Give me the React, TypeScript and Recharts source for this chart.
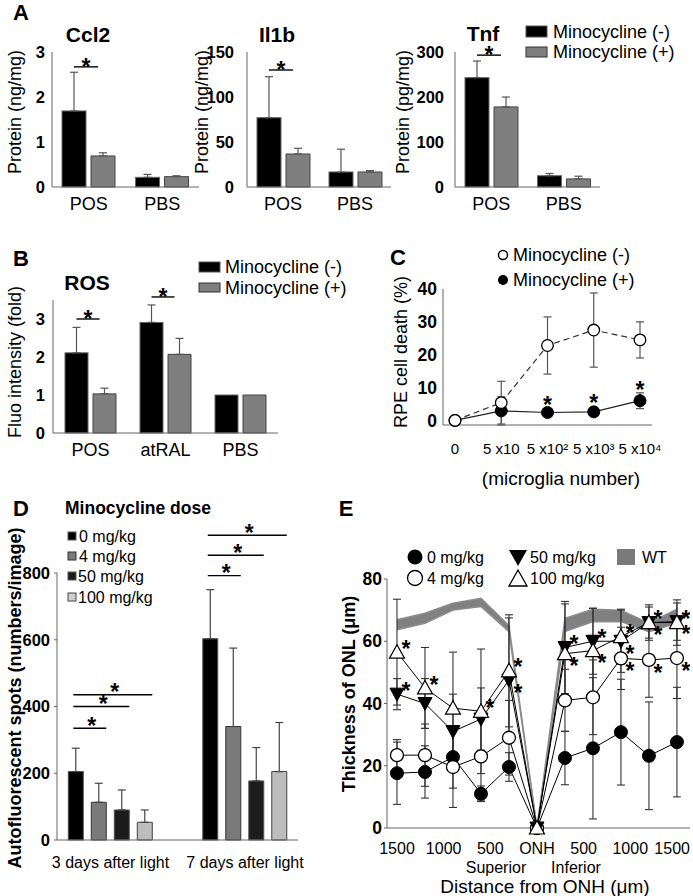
import React from 'react';
import { BarChart, Bar, XAxis, YAxis, ErrorBar, LineChart, Line, ComposedChart, Area } from 'recharts';

const FONT = "'Liberation Sans', Arial, Helvetica, sans-serif";
const AXIS = '#666';

// ---------- Panel A ----------
const A_CATS = ['POS', 'PBS'];
const CCL2_MINUS = [1.69, 0.215];
const CCL2_MINUS_ERR = [0.86, 0.065];
const CCL2_PLUS = [0.69, 0.23];
const CCL2_PLUS_ERR = [0.07, 0.02];
const CCL2_SIG = [2.67, null];
const CCL2_TICKS = [0, 1, 2, 3];

const IL1B_MINUS = [77, 16.7];
const IL1B_MINUS_ERR = [45.6, 25.3];
const IL1B_PLUS = [36.7, 16.7];
const IL1B_PLUS_ERR = [6.3, 1.5];
const IL1B_SIG = [130, null];
const IL1B_TICKS = [0, 50, 100, 150];

const TNF_MINUS = [243, 25];
const TNF_MINUS_ERR = [37, 5];
const TNF_PLUS = [178, 18];
const TNF_PLUS_ERR = [22, 6];
const TNF_SIG = [293, null];
const TNF_TICKS = [0, 100, 200, 300];

// ---------- Panel B ----------
const B_CATS = ['POS', 'atRAL', 'PBS'];
const ROS_MINUS = [2.11, 2.91, 1.0];
const ROS_MINUS_ERR = [0.67, 0.46, null];
const ROS_PLUS = [1.03, 2.07, 1.0];
const ROS_PLUS_ERR = [0.15, 0.42, null];
const ROS_SIG = [3.0, 3.58, null];
const ROS_TICKS = [0, 1, 2, 3];

// ---------- Panel C ----------
const C_CATS = ['0', '5 x10', '5 x10\u00B2', '5 x10\u00B3', '5 x10\u2074'];
const C_MINUS = [0, 5.4, 22.8, 27.5, 24.5];
const C_MINUS_ERR = [null, 6.5, 8.7, 11.3, 5.5];
const C_PLUS = [0, 2.9, 2.4, 2.6, 6.0];
const C_PLUS_ERR = [null, 4.3, null, null, 2.4];
const C_STAR = [null, null, 6.0, 6.8, 10.8];
const C_TICKS = [0, 10, 20, 30, 40];

// ---------- Panel D ----------
const D_CATS = ['3 days after light', '7 days after light'];
const D_0MG = [205, 603];
const D_0MG_ERR = [70, 147];
const D_4MG = [113, 340];
const D_4MG_ERR = [57, 235];
const D_50MG = [90, 177];
const D_50MG_ERR = [60, 100];
const D_100MG = [53, 205];
const D_100MG_ERR = [37, 147];
const D_SIG_VS_4 = [335, 792];
const D_SIG_VS_50 = [400, 853];
const D_SIG_VS_100 = [435, 913];
const D_TICKS = [0, 200, 400, 600, 800];

// ---------- Panel E ----------
const E_X = [-1500, -1200, -900, -600, -300, 0, 300, 600, 900, 1200, 1500];
const E_0MG = [17.6, 18, 22.8, 11, 19.6, 0, 22.5, 25.6, 30.8, 23.2, 27.6];
const E_0MG_ERR = [10, 8.4, 10, 2.5, 4.6, null, 8.6, 22.7, 17, 17.3, 17.6];
const E_4MG = [23.4, 23.4, 19.6, 23, 29, 0, 41, 42, 54.5, 54, 54.6];
const E_4MG_ERR = [5, 10, 13, 14, 12, null, 10, 12, 10, 12, 13];
const E_50MG = [43, 40, 31, 35, 47.5, 0, 58, 60, 60, 66, 66.3];
const E_50MG_ERR = [5, 8, 12, 10, 20, null, 14.8, 10.6, 10, 5, 6];
const E_100MG = [56.5, 45, 38.5, 37.5, 50.5, 0, 56, 57, 61.5, 66, 66];
const E_100MG_ERR = [17, 13, 18, 20, 18, null, 16, 13.6, 8.8, 5.7, 7.3];
const E_WT_LOW = [63.7, 65.8, 70, 71.2, 63.1, 0, 63.1, 66.3, 66.3, 63.1, 65.8];
const E_WT_HIGH = [66.9, 69, 72.2, 73.8, 65, 0, 67.4, 70.3, 70, 65.8, 70.3];
const E_4MG_STAR = [0, 0, 0, 0, 0, 0, 0, 0, -1, -1, -1];
const E_50MG_STAR = [1, 0, 0, 0, -1, 0, 1, 1, -1, -1, -1];
const E_100MG_STAR = [1, 1, 0, 1, 1, 0, -1, -1, 1, 1, 1];
const E_TICKS = [-1500, -1000, -500, 0, 500, 1000, 1500];
const E_Y_TICKS = [0, 20, 40, 60, 80];

// ---------- helpers ----------
const up = (e: number | null) => (e == null ? null : [0, e]);

const pairRows = (cats: string[], minus: number[], minusErr: (number | null)[], plus: number[], plusErr: (number | null)[], sig: (number | null)[]) =>
  cats.map((c, i) => ({ cat: c, minus: minus[i], minusErr: up(minusErr[i]), plus: plus[i], plusErr: up(plusErr[i]), sig: sig[i] }));

const STAR_FS = 23;
const Star = ({ x, y }: { x: number; y: number }) => (
  <text x={x} y={y + 0.55 * STAR_FS} textAnchor="middle" fontSize={STAR_FS} fontWeight={700} fontFamily={FONT} fill="#000">*</text>
);

const sigPairShape = (p: any) => {
  const { x, y, width, height, fill, stroke, payload } = p;
  const out: any[] = [<rect key="r" x={x} y={y} width={width} height={height} fill={fill} stroke={stroke} strokeWidth={1} />];
  if (payload && payload.sig != null && payload.minus > 0 && height > 0) {
    const k = height / payload.minus;
    const ly = y + height - payload.sig * k;
    const x1 = x + width / 2;
    const x2 = x1 + width;
    out.push(<line key="l" x1={x1} x2={x2} y1={ly} y2={ly} stroke="#000" strokeWidth={1.4} />);
    out.push(<Star key="s" x={(x1 + x2) / 2} y={ly - 5} />);
  }
  return <g>{out}</g>;
};

const tickBold = (size: number) => ({ fontSize: size, fontWeight: 700, fill: '#000', fontFamily: FONT });
const tickReg = (size: number) => ({ fontSize: size, fill: '#000', fontFamily: FONT });

function ProteinChart({ left, width, rows, ticks, gap }: any) {
  return (
    <div style={{ position: 'absolute', left, top: 0 }}>
      <BarChart width={width} height={217} data={rows} margin={{ top: 52, right: 0, bottom: 0, left: 0 }} barSize={24} barGap={5}>
        <XAxis dataKey="cat" height={30} interval={0} axisLine={{ stroke: AXIS }} tickLine={false} tickSize={4} tickMargin={6} tick={tickReg(18)} />
        <YAxis width={52} domain={[ticks[0], ticks[ticks.length - 1]]} ticks={ticks} interval={0} axisLine={{ stroke: AXIS }} tickLine={false} tickSize={0} tickMargin={gap} tick={tickBold(16.5)} />
        <Bar dataKey="minus" fill="#000" stroke="#666" isAnimationActive={false} shape={sigPairShape}>
          <ErrorBar dataKey="minusErr" width={4} stroke="#555" strokeWidth={1.2} />
        </Bar>
        <Bar dataKey="plus" fill="#7f7f7f" stroke="#444" isAnimationActive={false}>
          <ErrorBar dataKey="plusErr" width={4} stroke="#555" strokeWidth={1.2} />
        </Bar>
      </BarChart>
    </div>
  );
}

// D black-bar shape with three comparison lines
const D_GAP = 8;
const dSigShape = (p: any) => {
  const { x, y, width, height, fill, stroke, payload } = p;
  const out: any[] = [<rect key="r" x={x} y={y} width={width} height={height} fill={fill} stroke={stroke} strokeWidth={1} />];
  if (payload && payload.d0 > 0 && height > 0) {
    const k = height / payload.d0;
    [payload.s4, payload.s50, payload.s100].forEach((lvl: number, j: number) => {
      if (lvl == null) return;
      const ly = y + height - lvl * k;
      const x1 = x + 5;
      const x2 = x + (j + 1) * (width + D_GAP) + width;
      out.push(<line key={'l' + j} x1={x1} x2={x2} y1={ly} y2={ly} stroke="#000" strokeWidth={1.4} />);
      out.push(<Star key={'s' + j} x={(x1 + x2) / 2 + 2} y={ly - 7} />);
    });
  }
  return <g>{out}</g>;
};

// E markers
const starAt = (cx: number, cy: number, flag: number) =>
  flag === 0 || flag == null ? null : <Star x={cx + 9} y={cy + (flag > 0 ? -8 : 8)} />;

const mkDot = (kind: string, stars?: number[]) => (p: any) => {
  const { cx, cy, index } = p;
  if (cx == null || cy == null || isNaN(cx) || isNaN(cy)) return <g key={'e' + index} />;
  let m: any = null;
  if (kind === 'fc') m = <circle cx={cx} cy={cy} r={6.5} fill="#000" stroke="#000" />;
  if (kind === 'oc') m = <circle cx={cx} cy={cy} r={6.5} fill="#fff" stroke="#000" strokeWidth={1.3} />;
  if (kind === 'dt') m = <polygon points={`${cx - 7},${cy - 6} ${cx + 7},${cy - 6} ${cx},${cy + 7}`} fill="#000" stroke="#000" />;
  if (kind === 'ut') m = <polygon points={`${cx - 7.5},${cy + 6} ${cx + 7.5},${cy + 6} ${cx},${cy - 7.5}`} fill="#fff" stroke="#000" strokeWidth={1.2} />;
  if (kind === 'cfc') m = <circle cx={cx} cy={cy} r={6} fill="#000" stroke="#000" />;
  if (kind === 'coc') m = <circle cx={cx} cy={cy} r={5.8} fill="#fff" stroke="#000" strokeWidth={1.3} />;
  if (kind === 'star') m = <Star x={cx} y={cy} />;
  return (
    <g key={kind + index}>
      {m}
      {stars ? starAt(cx, cy, stars[index]) : null}
    </g>
  );
};

// E x-axis tick: last label kept inside the page edge
const ETick = (p: any) => {
  const { x, y, payload } = p;
  const v = payload.value;
  const label = v === 0 ? 'ONH' : String(Math.abs(v));
  const last = v === E_TICKS[E_TICKS.length - 1];
  return (
    <text x={last ? x + 13 : x} y={y} dy="0.71em" textAnchor={last ? 'end' : 'middle'} fontSize={16} fontFamily={FONT} fill="#000">
      {label}
    </text>
  );
};

const Txt = ({ x, y, size, bold, anchor = 'middle', rotate, children }: any) => (
  <text
    x={x}
    y={y}
    fontSize={size}
    fontWeight={bold ? 700 : 400}
    textAnchor={anchor}
    dominantBaseline="central"
    transform={rotate ? `rotate(-90 ${x} ${y})` : undefined}
    fontFamily={FONT}
    fill="#000"
  >
    {children}
  </text>
);

export default function App() {
  const ccl2 = pairRows(A_CATS, CCL2_MINUS, CCL2_MINUS_ERR, CCL2_PLUS, CCL2_PLUS_ERR, CCL2_SIG);
  const il1b = pairRows(A_CATS, IL1B_MINUS, IL1B_MINUS_ERR, IL1B_PLUS, IL1B_PLUS_ERR, IL1B_SIG);
  const tnf = pairRows(A_CATS, TNF_MINUS, TNF_MINUS_ERR, TNF_PLUS, TNF_PLUS_ERR, TNF_SIG);
  const ros = pairRows(B_CATS, ROS_MINUS, ROS_MINUS_ERR, ROS_PLUS, ROS_PLUS_ERR, ROS_SIG);

  const cRows = C_CATS.map((c, i) => ({
    cat: c,
    minus: C_MINUS[i],
    minusErr: C_MINUS_ERR[i],
    plus: C_PLUS[i],
    plusErr: C_PLUS_ERR[i],
    star: C_STAR[i],
  }));

  const dRows = D_CATS.map((c, i) => ({
    x: i,
    d0: D_0MG[i],
    d0e: up(D_0MG_ERR[i]),
    d4: D_4MG[i],
    d4e: up(D_4MG_ERR[i]),
    d50: D_50MG[i],
    d50e: up(D_50MG_ERR[i]),
    d100: D_100MG[i],
    d100e: up(D_100MG_ERR[i]),
    s4: D_SIG_VS_4[i],
    s50: D_SIG_VS_50[i],
    s100: D_SIG_VS_100[i],
  }));

  const eRows = E_X.map((x, i) => ({
    x,
    wt: [E_WT_LOW[i], E_WT_HIGH[i]],
    e0: E_0MG[i],
    e0e: E_0MG_ERR[i],
    e4: E_4MG[i],
    e4e: E_4MG_ERR[i],
    e50: E_50MG[i],
    e50e: E_50MG_ERR[i],
    e100: E_100MG[i],
    e100e: E_100MG_ERR[i],
  }));

  return (
    <div style={{ position: 'absolute', left: 0, top: 0, width: 693, height: 896, background: '#fff', fontFamily: FONT, overflow: 'hidden' }}>
      {/* Panel A */}
      <ProteinChart left={0} width={199} rows={ccl2} ticks={CCL2_TICKS} gap={7} />
      <ProteinChart left={195} width={196} rows={il1b} ticks={IL1B_TICKS} gap={13} />
      <ProteinChart left={403} width={197} rows={tnf} ticks={TNF_TICKS} gap={11} />

      {/* Panel B */}
      <div style={{ position: 'absolute', left: 0, top: 250 }}>
        <BarChart width={278} height={213} data={ros} margin={{ top: 50, right: 0, bottom: 0, left: 0 }} barSize={23} barGap={5}>
          <XAxis dataKey="cat" height={30} interval={0} axisLine={{ stroke: AXIS }} tickLine={false} tickSize={4} tickMargin={6.5} tick={tickReg(18)} />
          <YAxis width={53} domain={[0, 3.5]} ticks={ROS_TICKS} interval={0} axisLine={{ stroke: AXIS }} tickLine={false} tickSize={0} tickMargin={8} tick={tickBold(16.5)} />
          <Bar dataKey="minus" fill="#000" stroke="#666" isAnimationActive={false} shape={sigPairShape}>
            <ErrorBar dataKey="minusErr" width={4} stroke="#555" strokeWidth={1.2} />
          </Bar>
          <Bar dataKey="plus" fill="#7f7f7f" stroke="#444" isAnimationActive={false}>
            <ErrorBar dataKey="plusErr" width={4} stroke="#555" strokeWidth={1.2} />
          </Bar>
        </BarChart>
      </div>

      {/* Panel C */}
      <div style={{ position: 'absolute', left: 398, top: 250 }}>
        <LineChart width={294} height={215} data={cRows} margin={{ top: 39, right: 40, bottom: 0, left: 0 }}>
          <XAxis dataKey="cat" padding={{ left: 12, right: 12 }} interval={0} height={40} axisLine={{ stroke: AXIS }} tickLine={false} tickSize={0} tickMargin={18} tick={tickReg(15)} />
          <YAxis width={45} domain={[0, 40]} ticks={C_TICKS} interval={0} axisLine={{ stroke: AXIS }} tickLine={false} tickSize={0} tickMargin={6} tick={tickBold(17.5)} />
          <Line dataKey="plus" stroke="#222" strokeWidth={1.2} dot={mkDot('cfc')} activeDot={false} isAnimationActive={false}>
            <ErrorBar dataKey="plusErr" width={4} stroke="#555" strokeWidth={1.2} />
          </Line>
          <Line dataKey="minus" stroke="#333" strokeWidth={1.2} strokeDasharray="6 4" dot={mkDot('coc')} activeDot={false} isAnimationActive={false}>
            <ErrorBar dataKey="minusErr" width={4} stroke="#555" strokeWidth={1.2} />
          </Line>
          <Line dataKey="star" stroke="none" dot={mkDot('star')} activeDot={false} isAnimationActive={false} legendType="none" />
        </LineChart>
      </div>

      {/* Panel D */}
      <div style={{ position: 'absolute', left: 0, top: 520 }}>
        <BarChart width={330} height={360} data={dRows} margin={{ top: 53, right: 32, bottom: 0, left: 0 }} barSize={15} barGap={D_GAP}>
          <XAxis
            type="number"
            dataKey="x"
            domain={[-0.398, 1.394]}
            ticks={[0, 1]}
            allowDataOverflow
            tickFormatter={(v: number) => D_CATS[v] ?? ''}
            height={40}
            interval={0}
            axisLine={{ stroke: AXIS }}
            tickLine={false}
            tickSize={0}
            tickMargin={17}
            tick={tickReg(16)}
          />
          <YAxis width={57} domain={[0, 800]} ticks={D_TICKS} interval={0} axisLine={{ stroke: AXIS }} tickLine={{ stroke: AXIS }} tickSize={3} tickMargin={4} tick={tickBold(16.5)} />
          <Bar dataKey="d0" fill="#000" stroke="#555" isAnimationActive={false} shape={dSigShape}>
            <ErrorBar dataKey="d0e" width={4} stroke="#444" strokeWidth={1.2} />
          </Bar>
          <Bar dataKey="d4" fill="#7a7a7a" stroke="#333" isAnimationActive={false}>
            <ErrorBar dataKey="d4e" width={4} stroke="#444" strokeWidth={1.2} />
          </Bar>
          <Bar dataKey="d50" fill="#1c1c1c" stroke="#555" isAnimationActive={false}>
            <ErrorBar dataKey="d50e" width={4} stroke="#444" strokeWidth={1.2} />
          </Bar>
          <Bar dataKey="d100" fill="#bdbdbd" stroke="#444" isAnimationActive={false}>
            <ErrorBar dataKey="d100e" width={4} stroke="#444" strokeWidth={1.2} />
          </Bar>
        </BarChart>
      </div>

      {/* Panel E */}
      <div style={{ position: 'absolute', left: 340, top: 520 }}>
        <ComposedChart width={353} height={338} data={eRows} margin={{ top: 59, right: 3, bottom: 0, left: 0 }}>
          <XAxis
            type="number"
            dataKey="x"
            domain={[-1607, 1640]}
            ticks={E_TICKS}
            allowDataOverflow
            interval={0}
            height={30}
            axisLine={{ stroke: AXIS }}
            tickLine={false}
            tickSize={0}
            tickMargin={14.5}
            tick={<ETick />}
          />
          <YAxis width={47} domain={[0, 80]} ticks={E_Y_TICKS} interval={0} axisLine={{ stroke: AXIS }} tickLine={{ stroke: AXIS }} tickSize={3} tickMargin={2} tick={tickBold(17.5)} />
          <Area dataKey="wt" type="linear" fill="#808080" fillOpacity={1} stroke="#8c8c8c" strokeWidth={1.5} dot={false} activeDot={false} isAnimationActive={false} />
          <Line dataKey="e0" stroke="#000" strokeWidth={1} dot={mkDot('fc')} activeDot={false} isAnimationActive={false}>
            <ErrorBar dataKey="e0e" width={4} stroke="#333" strokeWidth={1.1} />
          </Line>
          <Line dataKey="e4" stroke="#000" strokeWidth={1} dot={mkDot('oc', E_4MG_STAR)} activeDot={false} isAnimationActive={false}>
            <ErrorBar dataKey="e4e" width={4} stroke="#333" strokeWidth={1.1} />
          </Line>
          <Line dataKey="e50" stroke="#000" strokeWidth={1} dot={mkDot('dt', E_50MG_STAR)} activeDot={false} isAnimationActive={false}>
            <ErrorBar dataKey="e50e" width={4} stroke="#333" strokeWidth={1.1} />
          </Line>
          <Line dataKey="e100" stroke="#000" strokeWidth={1} dot={mkDot('ut', E_100MG_STAR)} activeDot={false} isAnimationActive={false}>
            <ErrorBar dataKey="e100e" width={4} stroke="#333" strokeWidth={1.1} />
          </Line>
        </ComposedChart>
      </div>

      {/* Overlay texts & legends */}
      <svg width={693} height={896} style={{ position: 'absolute', left: 0, top: 0, pointerEvents: 'none' }}>
        {/* A */}
        <Txt x={21} y={12} size={22} bold>A</Txt>
        <Txt x={88} y={34} size={21} bold>Ccl2</Txt>
        <Txt x={277} y={34} size={21} bold>Il1b</Txt>
        <Txt x={483} y={33} size={21} bold>Tnf</Txt>
        <Txt x={15} y={112} size={18} rotate>Protein (ng/mg)</Txt>
        <Txt x={202} y={112} size={18} rotate>Protein (ng/mg)</Txt>
        <Txt x={403} y={112} size={18} rotate>Protein (pg/mg)</Txt>
        <rect x={526} y={26} width={21} height={11} fill="#000" stroke="#555" />
        <rect x={526} y={47} width={21} height={10} fill="#7f7f7f" stroke="#333" />
        <Txt x={553} y={32} size={18} anchor="start">Minocycline (-)</Txt>
        <Txt x={553} y={52} size={18} anchor="start">Minocycline (+)</Txt>

        {/* B */}
        <Txt x={21} y={258} size={22} bold>B</Txt>
        <Txt x={87} y={282} size={21} bold>ROS</Txt>
        <Txt x={15} y={362} size={18} rotate>Fluo intensity (fold)</Txt>
        <rect x={199} y={262} width={21} height={10} fill="#000" stroke="#555" />
        <rect x={199} y={283} width={21} height={9} fill="#7f7f7f" stroke="#333" />
        <Txt x={225} y={267} size={18} anchor="start">Minocycline (-)</Txt>
        <Txt x={225} y={288} size={18} anchor="start">Minocycline (+)</Txt>

        {/* C */}
        <Txt x={398} y={257} size={22} bold>C</Txt>
        <circle cx={503} cy={255} r={4.5} fill="#fff" stroke="#000" strokeWidth={1.5} />
        <circle cx={503} cy={280} r={5} fill="#000" />
        <Txt x={513} y={255} size={18} anchor="start">Minocycline (-)</Txt>
        <Txt x={513} y={280} size={18} anchor="start">Minocycline (+)</Txt>
        <Txt x={401} y={352} size={18} rotate>RPE cell death (%)</Txt>
        <Txt x={561} y={478} size={19}>(microglia number)</Txt>

        {/* D */}
        <Txt x={21} y={508} size={22} bold>D</Txt>
        <Txt x={65} y={508} size={17.5} bold anchor="start">Minocycline dose</Txt>
        <rect x={68} y={532} width={8} height={8} fill="#000" stroke="#555" />
        <rect x={68} y={552} width={8} height={8} fill="#7a7a7a" stroke="#333" />
        <rect x={68} y={572} width={8} height={8} fill="#1c1c1c" stroke="#555" />
        <rect x={68} y={593} width={8} height={8} fill="#cfcfcf" stroke="#444" />
        <Txt x={79} y={536} size={16} anchor="start">0 mg/kg</Txt>
        <Txt x={79} y={556} size={16} anchor="start">4 mg/kg</Txt>
        <Txt x={78} y={576} size={16} anchor="start">50 mg/kg</Txt>
        <Txt x={78} y={597} size={16} anchor="start">100 mg/kg</Txt>
        <Txt x={15} y={698} size={18} bold rotate>Autofluorescent spots  (numbers/image)</Txt>

        {/* E */}
        <Txt x={346} y={508} size={22} bold>E</Txt>
        <circle cx={415} cy={557} r={7.5} fill="#000" />
        <circle cx={415} cy={578} r={7.5} fill="#fff" stroke="#000" strokeWidth={1.3} />
        <polygon points="509,550 527,550 518,566" fill="#000" />
        <polygon points="509,586 527,586 518,570" fill="#fff" stroke="#000" strokeWidth={1.3} />
        <rect x={617} y={549} width={18} height={16} fill="#7a7a7a" />
        <Txt x={427} y={557} size={16} anchor="start">0 mg/kg</Txt>
        <Txt x={427} y={578} size={16} anchor="start">4 mg/kg</Txt>
        <Txt x={530} y={557} size={16} anchor="start">50 mg/kg</Txt>
        <Txt x={530} y={578} size={16} anchor="start">100 mg/kg</Txt>
        <Txt x={642} y={557} size={16} anchor="start">WT</Txt>
        <Txt x={349} y={694} size={18} bold rotate>Thickness of ONL  (μm)</Txt>
        <Txt x={496} y={867} size={16}>Superior</Txt>
        <Txt x={576} y={867} size={16}>Inferior</Txt>
        <Txt x={545} y={886} size={19}>Distance from ONH (μm)</Txt>
      </svg>
    </div>
  );
}
